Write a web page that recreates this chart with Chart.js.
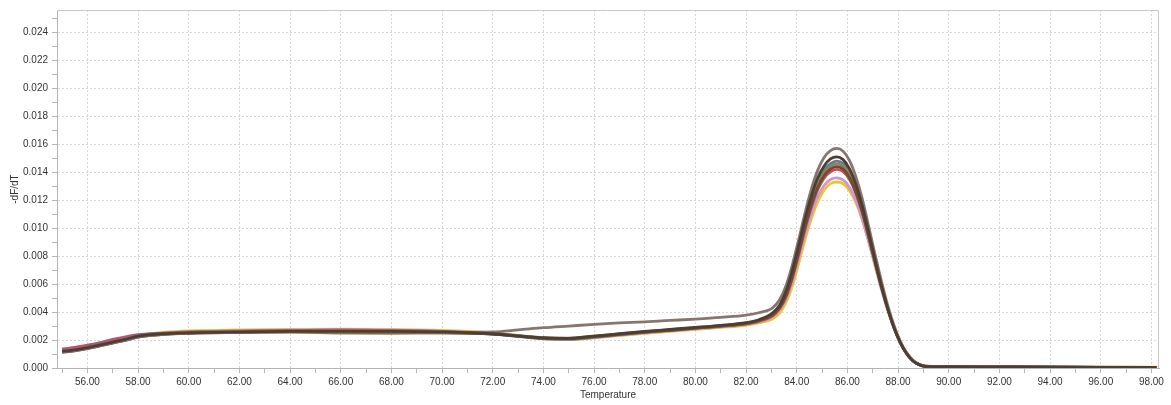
<!DOCTYPE html>
<html>
<head>
<meta charset="utf-8">
<script src="https://cdn.jsdelivr.net/npm/chart.js@4"></script>
<style>
html,body{margin:0;padding:0;background:#fff;}
#wrap{width:1171px;height:405px;position:relative;}
</style>
</head>
<body>
<div id="wrap"><canvas id="c"></canvas></div>
<script>
const temperature = [55,55.5,56,56.5,57,57.5,58,59,60,62,64,66,68,70,72,73,74,75,76,77,78,79,80,81,82,82.5,83.05,83.33,83.58,83.83,84.08,84.33,84.58,84.83,85.08,85.33,85.58,85.83,86.08,86.33,86.58,86.83,87.08,87.33,87.58,87.83,88.08,88.33,88.58,88.83,89.08,90,92,94,96,98.2];

const seriesDarkBrown = [0.00120,0.00130,0.00145,0.00165,0.00185,0.00205,0.00228,0.00245,0.00252,0.00258,0.00262,0.00262,0.00262,0.00258,0.00245,0.00230,0.00215,0.00212,0.00228,0.00245,0.00262,0.00276,0.00290,0.00305,0.00325,0.00345,0.00395,0.00450,0.00550,0.00700,0.00880,0.01070,0.01230,0.01360,0.01445,0.01495,0.01510,0.01490,0.01425,0.01315,0.01165,0.00980,0.00785,0.00600,0.00435,0.00295,0.00185,0.00105,0.00052,0.00024,0.00012,0.00010,0.00008,0.00006,0.00005,0.00005];

const seriesGreyBrown = [0.00115,0.00125,0.00140,0.00160,0.00180,0.00200,0.00222,0.00240,0.00250,0.00255,0.00258,0.00260,0.00258,0.00255,0.00258,0.00272,0.00288,0.00300,0.00312,0.00322,0.00330,0.00340,0.00350,0.00362,0.00378,0.00395,0.00430,0.00490,0.00590,0.00740,0.00920,0.01110,0.01280,0.01415,0.01505,0.01555,0.01570,0.01550,0.01485,0.01370,0.01215,0.01020,0.00820,0.00630,0.00455,0.00310,0.00195,0.00110,0.00055,0.00025,0.00013,0.00010,0.00008,0.00007,0.00006,0.00005];

const seriesBrown = [0.00112,0.00122,0.00138,0.00158,0.00178,0.00198,0.00220,0.00240,0.00248,0.00254,0.00258,0.00258,0.00256,0.00254,0.00243,0.00228,0.00214,0.00210,0.00224,0.00240,0.00256,0.00270,0.00285,0.00300,0.00318,0.00338,0.00380,0.00432,0.00520,0.00655,0.00828,0.01010,0.01168,0.01292,0.01375,0.01422,0.01440,0.01422,0.01362,0.01260,0.01122,0.00948,0.00765,0.00588,0.00430,0.00293,0.00185,0.00105,0.00053,0.00025,0.00012,0.00010,0.00008,0.00006,0.00005,0.00005];

const seriesOlive = [0.00118,0.00128,0.00143,0.00163,0.00183,0.00203,0.00225,0.00243,0.00250,0.00256,0.00258,0.00250,0.00248,0.00250,0.00245,0.00232,0.00218,0.00214,0.00228,0.00244,0.00260,0.00274,0.00288,0.00302,0.00320,0.00340,0.00382,0.00435,0.00525,0.00665,0.00840,0.01025,0.01185,0.01310,0.01395,0.01442,0.01460,0.01442,0.01380,0.01275,0.01135,0.00955,0.00770,0.00590,0.00430,0.00292,0.00183,0.00104,0.00052,0.00024,0.00012,0.00010,0.00008,0.00006,0.00005,0.00005];

const seriesBlue = [0.00125,0.00135,0.00150,0.00170,0.00190,0.00210,0.00232,0.00248,0.00255,0.00262,0.00265,0.00266,0.00265,0.00260,0.00242,0.00225,0.00208,0.00205,0.00220,0.00238,0.00255,0.00270,0.00285,0.00300,0.00320,0.00340,0.00385,0.00440,0.00535,0.00680,0.00855,0.01040,0.01200,0.01330,0.01415,0.01462,0.01480,0.01462,0.01400,0.01295,0.01150,0.00970,0.00780,0.00600,0.00435,0.00295,0.00185,0.00105,0.00052,0.00024,0.00012,0.00010,0.00008,0.00006,0.00005,0.00005];

const seriesRed = [0.00135,0.00148,0.00163,0.00182,0.00205,0.00222,0.00238,0.00250,0.00258,0.00264,0.00268,0.00272,0.00268,0.00262,0.00246,0.00230,0.00214,0.00210,0.00224,0.00240,0.00256,0.00270,0.00284,0.00298,0.00316,0.00334,0.00372,0.00425,0.00510,0.00645,0.00815,0.00995,0.01150,0.01275,0.01358,0.01403,0.01420,0.01405,0.01350,0.01250,0.01115,0.00945,0.00765,0.00590,0.00432,0.00296,0.00188,0.00108,0.00055,0.00026,0.00013,0.00010,0.00008,0.00006,0.00005,0.00005];

const seriesLavender = [0.00132,0.00145,0.00160,0.00178,0.00200,0.00218,0.00235,0.00250,0.00258,0.00265,0.00270,0.00272,0.00270,0.00262,0.00245,0.00228,0.00212,0.00208,0.00220,0.00236,0.00252,0.00266,0.00280,0.00294,0.00312,0.00330,0.00365,0.00415,0.00495,0.00620,0.00785,0.00955,0.01105,0.01225,0.01305,0.01348,0.01360,0.01345,0.01292,0.01200,0.01072,0.00910,0.00740,0.00572,0.00420,0.00290,0.00185,0.00106,0.00054,0.00025,0.00012,0.00010,0.00008,0.00006,0.00005,0.00005];

const seriesYellow = [0.00125,0.00138,0.00153,0.00172,0.00195,0.00215,0.00235,0.00255,0.00265,0.00272,0.00276,0.00278,0.00276,0.00268,0.00250,0.00232,0.00212,0.00205,0.00215,0.00232,0.00248,0.00262,0.00276,0.00290,0.00305,0.00322,0.00352,0.00395,0.00470,0.00590,0.00750,0.00920,0.01070,0.01190,0.01272,0.01318,0.01330,0.01318,0.01270,0.01185,0.01065,0.00910,0.00745,0.00580,0.00428,0.00296,0.00190,0.00110,0.00056,0.00026,0.00013,0.00011,0.00009,0.00007,0.00006,0.00006];

const xTickValues = [55,56,57,58,59,60,61,62,63,64,65,66,67,68,69,70,71,72,73,74,75,76,77,78,79,80,81,82,83,84,85,86,87,88,89,90,91,92,93,94,95,96,97,98];
const yTickValues = [0,0.001,0.002,0.003,0.004,0.005,0.006,0.007,0.008,0.009,0.010,0.011,0.012,0.013,0.014,0.015,0.016,0.017,0.018,0.019,0.020,0.021,0.022,0.023,0.024,0.025];

const seriesList = [
  {name:'S1', values: seriesDarkBrown, color:'#4e3d31'},
  {name:'S2', values: seriesGreyBrown, color:'#86766f'},
  {name:'S3', values: seriesBrown, color:'#6c4d30'},
  {name:'S4', values: seriesOlive, color:'#8e8452'},
  {name:'S5', values: seriesBlue, color:'#627a98'},
  {name:'S6', values: seriesRed, color:'#cf4b5f'},
  {name:'S7', values: seriesLavender, color:'#c89bd0'},
  {name:'S8', values: seriesYellow, color:'#f3c22e'}
];

const FONT = {family:'"Liberation Sans", Arial, sans-serif', size:10};

const frame = {
  id:'frame',
  afterDraw(chart){
    const a = chart.chartArea, ctx = chart.ctx;
    ctx.save();
    ctx.strokeStyle = '#c8c8c8';
    ctx.lineWidth = 1;
    ctx.beginPath();
    ctx.moveTo(a.left, a.top + 0.5);
    ctx.lineTo(a.right - 0.5, a.top + 0.5);
    ctx.lineTo(a.right - 0.5, a.bottom);
    ctx.stroke();
    ctx.restore();
  }
};

new Chart(document.getElementById('c'), {
  type:'line',
  data:{
    datasets: seriesList.map(s => ({
      label:s.name,
      data: temperature.map((t,i) => ({x:t, y:s.values[i]})),
      borderColor:s.color,
      backgroundColor:s.color,
      borderWidth:2.8,
      pointRadius:0,
      fill:false,
      cubicInterpolationMode:'monotone'
    }))
  },
  options:{
    responsive:true,
    maintainAspectRatio:false,
    animation:false,
    devicePixelRatio:1,
    layout:{padding:{left:0, top:8, right:12, bottom:0}},
    plugins:{legend:{display:false}, tooltip:{enabled:false}},
    scales:{
      x:{
        type:'linear',
        min:54.8,
        max:98.3,
        afterBuildTicks(scale){ scale.ticks = xTickValues.map(v => ({value:v})); },
        afterFit(scale){ scale.height = 37; },
        ticks:{
          autoSkip:false, maxRotation:0, padding:3,
          color:'#333', font:FONT,
          callback:(v) => (Math.round(v) % 2 === 0 ? Number(v).toFixed(2) : '')
        },
        grid:{
          color:(ctx) => (ctx.tick && Math.round(ctx.tick.value) % 2 === 0 ? '#d8d8d8' : 'rgba(0,0,0,0)'),
          tickColor:'#b4b4b4',
          tickLength:5,
          lineWidth:1
        },
        border:{color:'#b4b4b4', width:1, dash:[2,2]},
        title:{display:true, text:'Temperature', color:'#333', font:FONT, padding:{top:2, bottom:4}}
      },
      y:{
        type:'linear',
        min:0,
        max:0.0256,
        afterBuildTicks(scale){ scale.ticks = yTickValues.map(v => ({value:v})); },
        afterFit(scale){ scale.width = 57; },
        ticks:{
          autoSkip:false, padding:4,
          color:'#333', font:FONT,
          callback:(v) => (Math.round(v*1000) % 2 === 0 ? Number(v).toFixed(3) : '')
        },
        grid:{
          color:(ctx) => (ctx.tick && Math.round(ctx.tick.value*1000) % 2 === 0 && ctx.tick.value > 0 ? '#d8d8d8' : 'rgba(0,0,0,0)'),
          tickColor:'#b4b4b4',
          tickLength:5,
          lineWidth:1
        },
        border:{color:'#b4b4b4', width:1, dash:[2,2]},
        title:{display:true, text:'-dF/dT', color:'#333', font:FONT, padding:{top:9, bottom:0}}
      }
    }
  },
  plugins:[frame]
});
</script>
</body>
</html>
